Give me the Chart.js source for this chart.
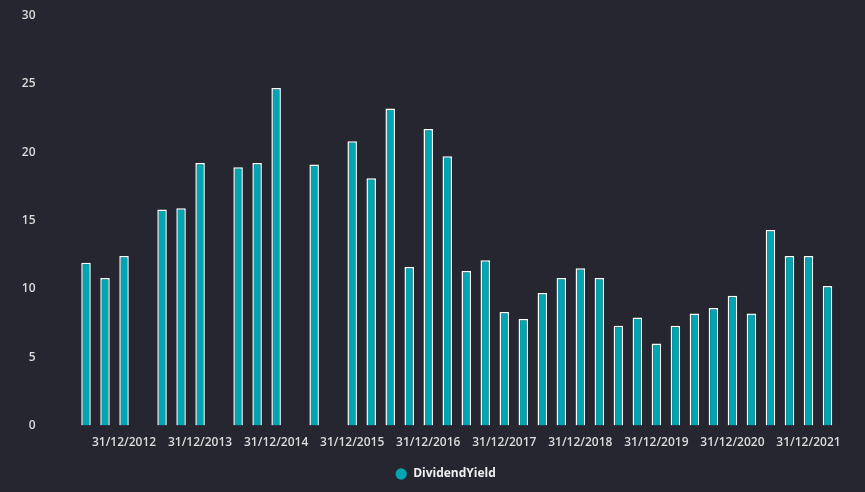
<!DOCTYPE html>
<html>
<head>
<meta charset="utf-8">
<script src="https://cdn.jsdelivr.net/npm/chart.js@4"></script>
<style>
  html, body { margin: 0; padding: 0; background: #252630; }
  #wrap { width: 865px; height: 492px; position: relative; }
</style>
</head>
<body>
<div id="wrap"><canvas id="c"></canvas></div>
<script>
const categories = [
  "30/06/2012","30/09/2012","31/12/2012","31/03/2013",
  "30/06/2013","30/09/2013","31/12/2013","31/03/2014",
  "30/06/2014","30/09/2014","31/12/2014","31/03/2015",
  "30/06/2015","30/09/2015","31/12/2015","31/03/2016",
  "30/06/2016","30/09/2016","31/12/2016","31/03/2017",
  "30/06/2017","30/09/2017","31/12/2017","31/03/2018",
  "30/06/2018","30/09/2018","31/12/2018","31/03/2019",
  "30/06/2019","30/09/2019","31/12/2019","31/03/2020",
  "30/06/2020","30/09/2020","31/12/2020","31/03/2021",
  "30/06/2021","30/09/2021","31/12/2021","31/03/2022"
];
const dividendYield = [
  11.9, 10.8, 12.4, null,
  15.8, 15.9, 19.2, null,
  18.9, 19.2, 24.7, null,
  19.1, null, 20.8, 18.1,
  23.2, 11.6, 21.7, 19.7,
  11.3, 12.1, 8.3, 7.8,
  9.7, 10.8, 11.5, 10.8,
  7.3, 7.9, 6.0, 7.3,
  8.2, 8.6, 9.5, 8.2,
  14.3, 12.4, 12.4, 10.2
];
const yTicks = [0, 5, 10, 15, 20, 25, 30];
const seriesName = "DividendYield";

Chart.defaults.font.family = "'Open Sans', sans-serif";

const legendShift = {
  id: 'legendShift',
  afterLayout(chart) {
    const lg = chart.legend;
    if (lg) { lg.left += 27; lg.right += 27; }
  }
};

new Chart(document.getElementById('c'), {
  type: 'bar',
  plugins: [legendShift],
  data: {
    labels: categories,
    datasets: [{
      label: seriesName,
      data: dividendYield,
      backgroundColor: '#00a5b1',
      borderColor: '#ffffff',
      borderWidth: 1.5,
      barPercentage: 0.5,
      categoryPercentage: 1.0
    }]
  },
  options: {
    responsive: true,
    maintainAspectRatio: false,
    animation: false,
    layout: { padding: { top: 15.5, right: 28, left: 0, bottom: 2 } },
    scales: {
      x: {
        grid: { display: false, drawTicks: false },
        border: { display: false },
        afterFit: function(scale) { scale.height = 32.5; },
        ticks: {
          autoSkip: false,
          maxRotation: 0,
          minRotation: 0,
          padding: 9.5,
          color: '#dcdcdc',
          font: { size: 12, weight: '600' },
          callback: function(value) {
            const l = categories[value];
            return l.startsWith('31/12') ? l : '';
          }
        }
      },
      y: {
        min: 0,
        max: 30,
        grid: { display: false, drawTicks: false },
        border: { display: false },
        afterFit: function(scale) {
          scale.width = 76.5;
          scale.paddingTop = 0;
          scale.paddingBottom = 0;
        },
        afterBuildTicks: function(scale) { scale.ticks = yTicks.map(v => ({ value: v })); },
        ticks: {
          padding: 41,
          color: '#dcdcdc',
          font: { size: 12, weight: '600' }
        }
      }
    },
    plugins: {
      legend: {
        position: 'bottom',
        labels: {
          usePointStyle: true,
          pointStyle: 'circle',
          boxWidth: 12,
          boxHeight: 8,
          color: '#f0f0f0',
          font: { size: 12, weight: 'bold' },
          padding: 10,
          generateLabels: function(chart) {
            const items = Chart.defaults.plugins.legend.labels.generateLabels(chart);
            items.forEach(it => { it.strokeStyle = it.fillStyle; it.lineWidth = 0; });
            return items;
          }
        }
      },
      tooltip: { enabled: false }
    }
  }
});
</script>
</body>
</html>
